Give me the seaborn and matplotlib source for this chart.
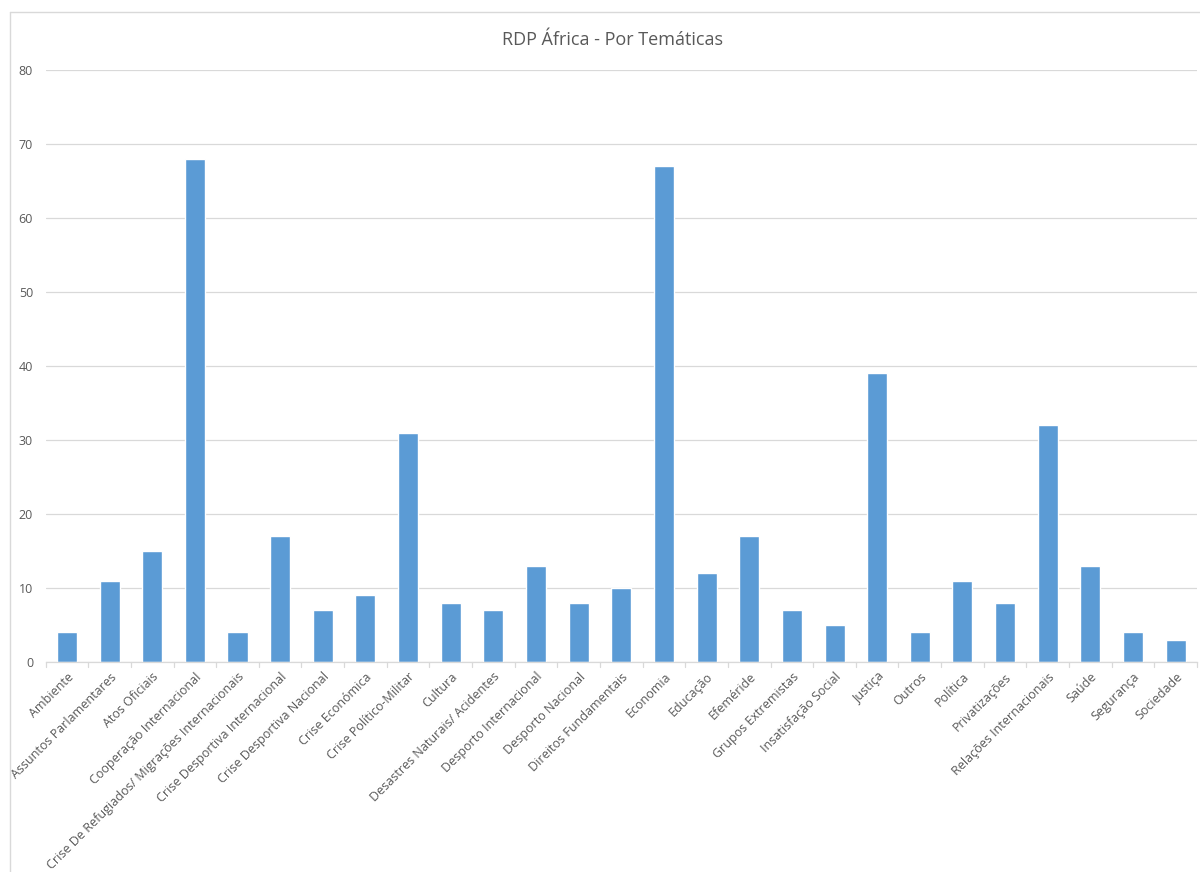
import matplotlib
matplotlib.use("Agg")
import matplotlib.pyplot as plt
import seaborn as sns
import pandas as pd
import numpy as np
from matplotlib.lines import Line2D

categories = ["Ambiente", "Assuntos Parlamentares", "Atos Oficiais", "Cooperação Internacional",
              "Crise De Refugiados/ Migrações Internacionais", "Crise Desportiva Internacional",
              "Crise Desportiva Nacional", "Crise Económica", "Crise Político-Militar", "Cultura",
              "Desastres Naturais/ Acidentes", "Desporto Internacional", "Desporto Nacional",
              "Direitos Fundamentais", "Economia", "Educação", "Efeméride", "Grupos Extremistas",
              "Insatisfação Social", "Justiça", "Outros", "Política", "Privatizações",
              "Relações Internacionais", "Saúde", "Segurança", "Sociedade"]
values = [4, 11, 15, 68, 4, 17, 7, 9, 31, 8, 7, 13, 8, 10, 67, 12, 17, 7, 5, 39, 4, 11, 8, 32, 13, 4, 3]
yticks = [0, 10, 20, 30, 40, 50, 60, 70, 80]

sns.set_theme(style="white")
plt.rcParams['font.family'] = ['Open Sans', 'DejaVu Sans']

df = pd.DataFrame({"cat": categories, "val": values})
fig = plt.figure(figsize=(12, 8.72), dpi=100)
ax = fig.add_axes([0.038, 0.2408, 0.9595, 0.6789])
sns.barplot(data=df, x="cat", y="val", color="#5B9BD5", width=0.47, ax=ax, saturation=1)

ax.set_ylim(0, 80)
ax.set_xlim(-0.5, len(categories) - 0.5)
ax.set_yticks(yticks)
ax.set_yticklabels([str(t) for t in yticks], fontsize=9, color="#595959")
ax.yaxis.grid(True, color="#D9D9D9", linewidth=0.9)
ax.set_axisbelow(True)
ax.tick_params(axis="y", length=0, pad=9)
for s in ["top", "right", "left"]:
    ax.spines[s].set_visible(False)
ax.spines["bottom"].set_color("#D9D9D9")
ax.spines["bottom"].set_linewidth(0.9)

ax.set_xticks(range(len(categories)))
ax.set_xticklabels(categories, rotation=45, ha="right", rotation_mode="anchor",
                   fontsize=9, color="#595959")
ax.tick_params(axis="x", length=0, pad=6)
# boundary tick marks
for b in np.arange(-0.5, len(categories), 1.0):
    ax.plot([b, b], [0, -0.008], transform=ax.get_xaxis_transform(), color="#D9D9D9",
            linewidth=0.9, clip_on=False)
ax.set_xlabel("")
ax.set_ylabel("")

fig.text(0.51, 0.954, "RDP África - Por Temáticas", ha="center", va="center",
         fontsize=13, color="#595959")

# chart border
fig.add_artist(Line2D([10/1200, 10/1200], [0, 1 - 12/872], color="#D9D9D9", linewidth=1))
fig.add_artist(Line2D([10/1200, 1], [1 - 12/872, 1 - 12/872], color="#D9D9D9", linewidth=1))

fig.savefig("out.png", dpi=100, facecolor="white")
